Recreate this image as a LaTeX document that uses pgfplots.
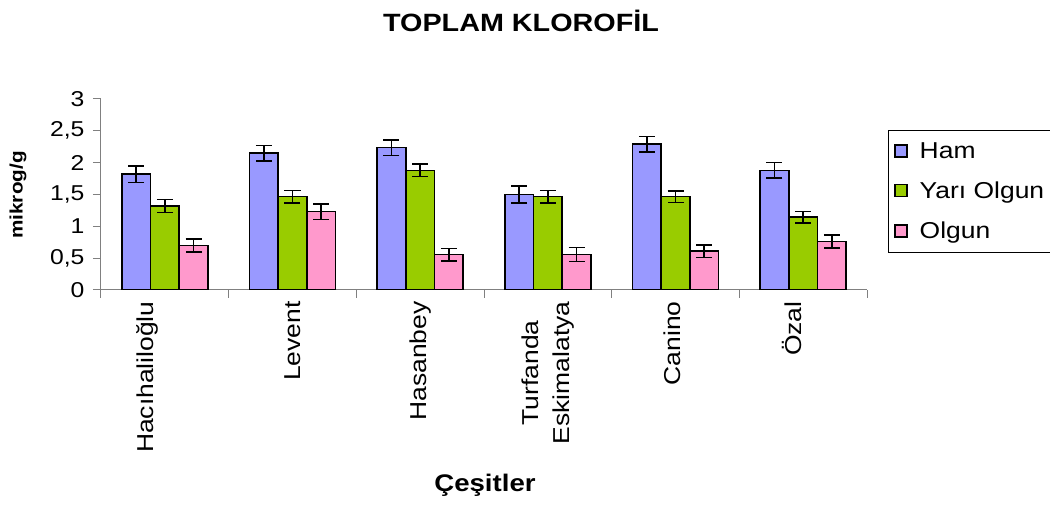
\documentclass[border=0pt]{standalone}
\usepackage{pgfplots}
\pgfplotsset{compat=1.18}
\usepackage{fontspec}
\setmainfont{Liberation Sans}[FakeStretch=1.15]
\definecolor{cham}{HTML}{9999FF}
\definecolor{cyo}{HTML}{99CC00}
\definecolor{col}{HTML}{FF99CC}
\definecolor{axgray}{HTML}{808080}
\pgfplotsset{sq/.style={legend image code/.code={\draw[##1,draw=black,line width=1.2pt] (0pt,-6pt) rectangle (12pt,6pt); \path (22pt,0pt);}}}
\begin{document}
\begin{tikzpicture}[x=1pt,y=1pt]
\begin{axis}[
  at={(0,0)}, anchor=south west,
  scale only axis, width=766pt, height=191pt,
  xmin=0, xmax=6, ymin=0, ymax=3,
  ybar=0pt, bar width=28.7pt,
  axis lines*=left,
  axis line style={axgray, line width=1pt},
  tick align=outside,
  xtick={0.5,1.5,2.5,3.5,4.5,5.5},
  xticklabels={\raisebox{17pt}[\height][\depth]{Hacıhaliloğlu}, Levent, Hasanbey, {Turfanda\\Eskimalatya}, \raisebox{3pt}[\height][\depth]{Canino}, \raisebox{11pt}[\height][\depth]{Özal}},
  xticklabel style={rotate=90, anchor=east, align=center, font=\fontsize{23}{31}\selectfont},
  major x tick style={draw=none},
  minor xtick={0,1,2,3,4,5,6},
  minor tick length=8pt,
  minor x tick style={axgray, line width=1pt},
  ytick={0,0.5,1,1.5,2,2.5,3},
  major tick length=8pt,
  y tick style={axgray, line width=1pt},
  yticklabel style={font=\fontsize{21.5}{24}\selectfont, xshift=-5pt},
  /pgf/number format/.cd, use comma, assume math mode=true, /pgfplots/.cd,
  legend style={at={(axis description cs:1.0274,0.8377)}, anchor=north west,
    draw=black, line width=0.8pt, font=\fontsize{23}{26}\selectfont,
    inner xsep=6pt, inner ysep=10pt, row sep=18pt},
  legend cell align=left,
  error bars/y dir=both, error bars/y explicit,
  error bars/error bar style={black, line width=1.5pt},
  error bars/error mark options={black, line width=1.5pt, mark size=8pt, rotate=90},
]
\addplot[sq, fill=cham, draw=black, line width=1.5pt] coordinates {
(0.5,1.82) +- (0,0.13)
(1.5,2.15) +- (0,0.12)
(2.5,2.235) +- (0,0.12)
(3.5,1.50) +- (0,0.13)
(4.5,2.29) +- (0,0.12)
(5.5,1.88) +- (0,0.12)
};
\addplot[sq, fill=cyo, draw=black, line width=1.5pt] coordinates {
(0.5,1.32) +- (0,0.10)
(1.5,1.465) +- (0,0.10)
(2.5,1.88) +- (0,0.10)
(3.5,1.465) +- (0,0.10)
(4.5,1.465) +- (0,0.09)
(5.5,1.145) +- (0,0.09)
};
\addplot[sq, fill=col, draw=black, line width=1.5pt] coordinates {
(0.5,0.70) +- (0,0.10)
(1.5,1.23) +- (0,0.12)
(2.5,0.555) +- (0,0.10)
(3.5,0.555) +- (0,0.11)
(4.5,0.61) +- (0,0.10)
(5.5,0.76) +- (0,0.10)
};
\legend{Ham, Yarı Olgun, Olgun}
\end{axis}
\node[font=\bfseries\fontsize{25}{30}\selectfont] at (420,269) {TOPLAM KLOROFİL};
\node[rotate=90, font=\bfseries\fontsize{18}{20}\selectfont] at (-83,95) {mikrog/g};
\node[font=\bfseries\fontsize{24}{28}\selectfont, anchor=base] at (384,-202) {Çeşitler};
\pgfresetboundingbox
\path (-101,-215) rectangle (949,290);
\end{tikzpicture}
\end{document}
